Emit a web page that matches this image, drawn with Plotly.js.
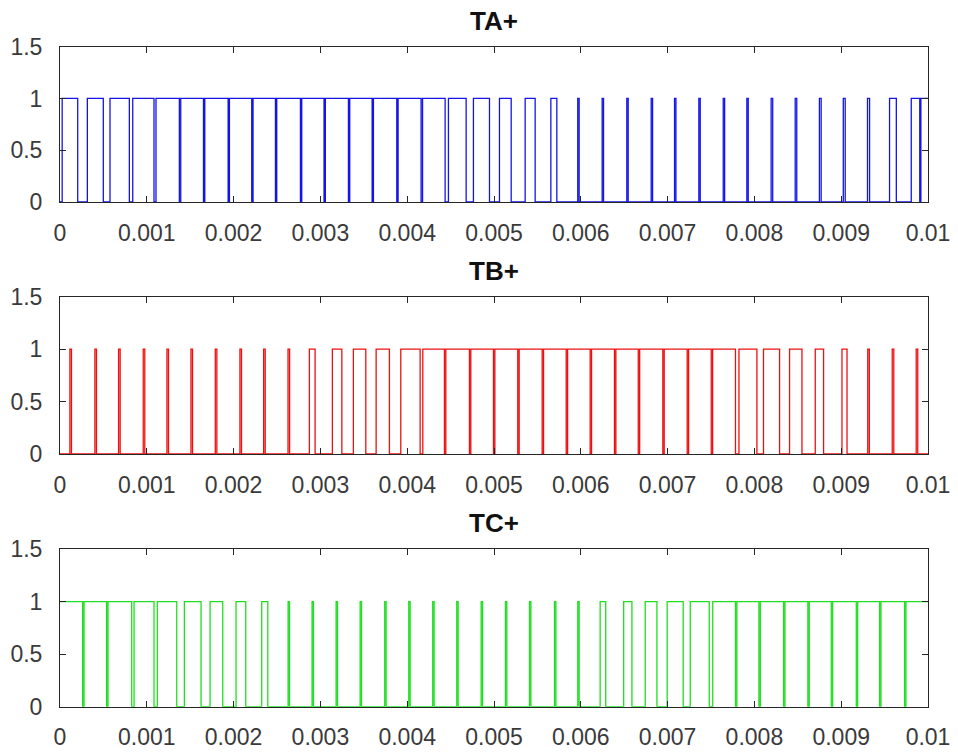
<!DOCTYPE html>
<html>
<head>
<meta charset="utf-8">
<script src="https://cdn.plot.ly/plotly-3.0.1.min.js"></script>
<style>html,body{margin:0;padding:0;background:#fff;}#chart{width:958px;height:754px;}</style>
</head>
<body>
<div id="chart"></div>
<script>
// Switching instants (s) of each gate signal; the level toggles at every instant.
const subplotTitles = ["TA+", "TB+", "TC+"];
const startLevels = [0, 0, 1];

const taEdges = [
  0.000025, 0.000204, 0.000315, 0.000499, 0.000576, 0.000799, 0.000838, 0.001083, 0.001106,
  0.001375, 0.001391, 0.001653, 0.001668, 0.001937, 0.001952, 0.002209, 0.002224,
  0.002482, 0.002497, 0.002770, 0.002785, 0.003042, 0.003057, 0.003323, 0.003338,
  0.003596, 0.003611, 0.003880, 0.003895, 0.004160, 0.004177,
  0.004437, 0.004475, 0.004679, 0.004763, 0.004948, 0.005063, 0.005198, 0.005359,
  0.005474, 0.005655, 0.005724,
  0.005965, 0.005981, 0.006246, 0.006262, 0.006530, 0.006546, 0.006811, 0.006827,
  0.007080, 0.007096, 0.007360, 0.007376, 0.007641, 0.007657, 0.007913, 0.007929,
  0.008193, 0.008211, 0.008470, 0.008488, 0.008749, 0.008769, 0.009024, 0.009046,
  0.009303, 0.009327,
  0.009557, 0.009635, 0.009807, 0.009905, 0.009918
];

const tbEdges = [
  0.000114, 0.000132, 0.000402, 0.000420, 0.000675, 0.000693, 0.000959, 0.000977,
  0.001232, 0.001250, 0.001509, 0.001527, 0.001789, 0.001807, 0.002073, 0.002091,
  0.002346, 0.002364, 0.002627, 0.002645,
  0.002873, 0.002939, 0.003138, 0.003247, 0.003380, 0.003523, 0.003642, 0.003795,
  0.003926, 0.004149, 0.004180,
  0.004429, 0.004445, 0.004717, 0.004733, 0.004994, 0.005010, 0.005274, 0.005290,
  0.005555, 0.005571, 0.005832, 0.005848, 0.006108, 0.006124, 0.006388, 0.006404,
  0.006662, 0.006678, 0.006945, 0.006961, 0.007226, 0.007242, 0.007503, 0.007519,
  0.007782, 0.007822,
  0.008029, 0.008105, 0.008290, 0.008405, 0.008548, 0.008701, 0.008797, 0.009009, 0.009067,
  0.009306, 0.009324, 0.009588, 0.009606, 0.009864, 0.009882
];

const tcEdges = [
  0.000261, 0.000277, 0.000537, 0.000553, 0.000826, 0.000853, 0.001083, 0.001121,
  0.001345, 0.001433, 0.001625, 0.001729, 0.001875, 0.002028, 0.002140, 0.002324,
  0.002394,
  0.002628, 0.002644, 0.002904, 0.002920, 0.003181, 0.003197, 0.003458, 0.003474,
  0.003741, 0.003757, 0.004018, 0.004034, 0.004294, 0.004310, 0.004571, 0.004587,
  0.004852, 0.004868, 0.005132, 0.005148, 0.005409, 0.005425, 0.005697, 0.005713,
  0.005965, 0.005981,
  0.006223, 0.006287, 0.006494, 0.006589, 0.006742, 0.006877, 0.006995, 0.007180,
  0.007261, 0.007480, 0.007520,
  0.007782, 0.007798, 0.008052, 0.008068, 0.008336, 0.008352, 0.008616, 0.008632,
  0.008886, 0.008902, 0.009174, 0.009190, 0.009442, 0.009458, 0.009730, 0.009746
];

const xTickVals = [0, 0.001, 0.002, 0.003, 0.004, 0.005, 0.006, 0.007, 0.008, 0.009, 0.01];
const xTickText = ["0", "0.001", "0.002", "0.003", "0.004", "0.005", "0.006", "0.007", "0.008", "0.009", "0.01"];
const yTickVals = [0, 0.5, 1, 1.5];
const yTickText = ["0", "0.5", "1", "1.5"];
const tEnd = 0.01;

const colors = ["#1414e6", "#ee1010", "#1ee01e"];
const allEdges = [taEdges, tbEdges, tcEdges];

function steps(edges, start) {
  const x = [0], y = [start];
  let v = start;
  for (const t of edges) { x.push(t, t); y.push(v, 1 - v); v = 1 - v; }
  x.push(tEnd); y.push(v);
  return {x, y};
}

const traces = allEdges.map((e, i) => {
  const s = steps(e, startLevels[i]);
  return {
    x: s.x, y: s.y, type: "scatter", mode: "lines",
    line: {color: colors[i], width: 1.3},
    xaxis: i === 0 ? "x" : "x" + (i + 1),
    yaxis: i === 0 ? "y" : "y" + (i + 1),
    hoverinfo: "skip", showlegend: false
  };
});

const W = 958, H = 754;
const plotTops = [46.7, 296.7, 549];
const plotBots = [202, 454, 706.7];
const titleY = [21, 271, 523];

const tickFont = {family: "Liberation Sans, Arial, sans-serif", size: 23, color: "#3a3a3a"};
const layout = {
  width: W, height: H,
  margin: {l: 60, r: 30, t: 0, b: 0},
  paper_bgcolor: "#ffffff", plot_bgcolor: "#ffffff",
  showlegend: false,
  annotations: []
};

for (let i = 0; i < 3; i++) {
  const sfx = i === 0 ? "" : String(i + 1);
  layout["xaxis" + sfx] = {
    domain: [0, 1], range: [0, tEnd], anchor: "y" + sfx,
    tickmode: "array", tickvals: xTickVals, ticktext: xTickText,
    ticks: "inside", ticklen: 6, tickcolor: "#262626",
    showline: true, linecolor: "#262626", linewidth: 1, mirror: "ticks",
    showgrid: false, zeroline: false, tickfont: tickFont,
    ticklabelstandoff: 10, fixedrange: true
  };
  layout["yaxis" + sfx] = {
    domain: [1 - plotBots[i] / H, 1 - plotTops[i] / H], range: [0, 1.5], anchor: "x" + sfx,
    tickmode: "array", tickvals: yTickVals, ticktext: yTickText,
    ticks: "inside", ticklen: 6, tickcolor: "#262626",
    showline: true, linecolor: "#262626", linewidth: 1, mirror: "ticks",
    showgrid: false, zeroline: false, tickfont: tickFont,
    ticklabelstandoff: 12, fixedrange: true
  };
  layout.annotations.push({
    text: "<b>" + subplotTitles[i] + "</b>",
    xref: "paper", yref: "paper", x: 0.5, y: 1 - titleY[i] / H,
    xanchor: "center", yanchor: "middle", showarrow: false,
    font: {family: "Liberation Sans, Arial, sans-serif", size: 26, color: "#111111"}
  });
}

Plotly.newPlot("chart", traces, layout, {staticPlot: true, displayModeBar: false});
</script>
</body>
</html>
